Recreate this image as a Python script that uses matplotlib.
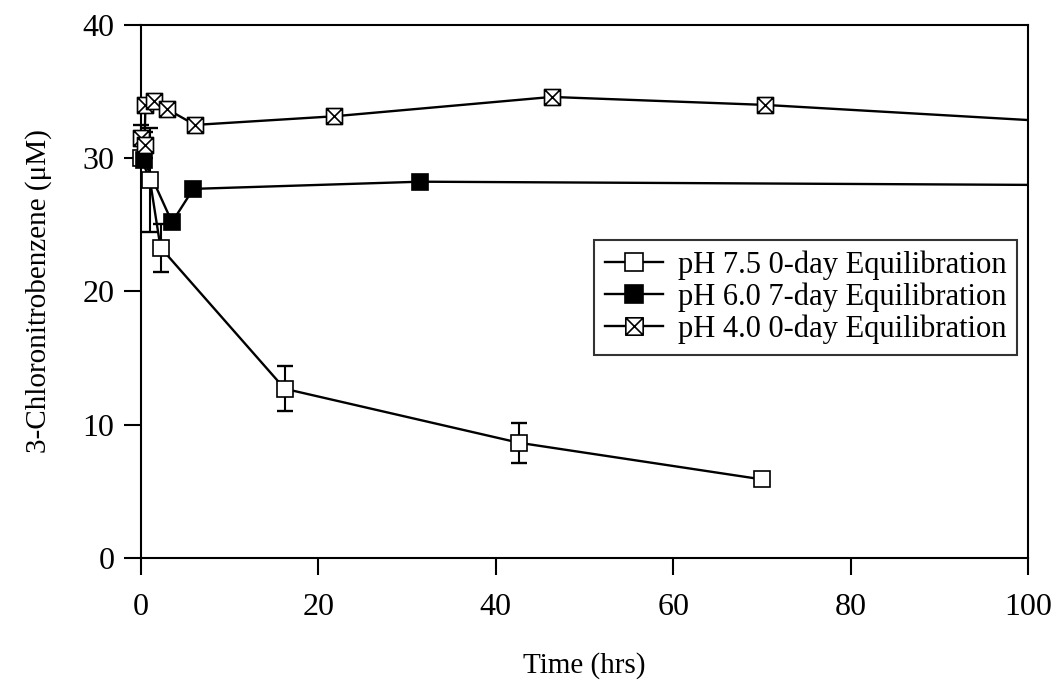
import matplotlib
matplotlib.use("Agg")
import matplotlib.pyplot as plt
from matplotlib.path import Path
from matplotlib.lines import Line2D
import numpy as np

plt.rcParams['font.family'] = ['Liberation Serif', 'DejaVu Serif']

# Data
t_75 = [0.0, 1.0, 2.2, 16.2, 42.6, 70.0]
y_75 = [30.0, 28.4, 23.3, 12.7, 8.65, 5.9]
e_75 = [0.0, 3.9, 1.8, 1.7, 1.5, 0.0]

t_60 = [0.3, 3.5, 5.9, 31.5, 120.0]
y_60 = [29.9, 25.2, 27.7, 28.24, 27.93]
e_60 = [0.3, 0.3, 0.3, 0.3, 0.3]

t_40 = [0.0, 0.4, 0.5, 1.45, 2.9, 6.1, 21.8, 46.3, 70.4, 120.0]
y_40 = [31.5, 31.0, 34.0, 34.3, 33.7, 32.5, 33.15, 34.6, 34.0, 32.1]
e_40 = [1.0, 1.0, 0.3, 0.3, 0.3, 0.3, 0.3, 0.3, 0.3, 0.3]

labels = ["pH 7.5 0-day Equilibration",
          "pH 6.0 7-day Equilibration",
          "pH 4.0 0-day Equilibration"]

xticks = [0, 20, 40, 60, 80, 100]
yticks = [0, 10, 20, 30, 40]

# box-with-X marker
verts = [(-1, -1), (1, -1), (1, 1), (-1, 1), (-1, -1),
         (-1, -1), (1, 1), (-1, 1), (1, -1)]
codes = [Path.MOVETO, Path.LINETO, Path.LINETO, Path.LINETO, Path.CLOSEPOLY,
         Path.MOVETO, Path.LINETO, Path.MOVETO, Path.LINETO]
boxx = Path(verts, codes)

fig = plt.figure(figsize=(10.53, 6.9), dpi=100)
ax = fig.add_axes([0.1339, 0.1913, 0.8424, 0.7725])

ms = 11.5
mew = 1.2
lw = 1.7

series = [
    (t_75, y_75, e_75, 's', 'white'),
    (t_60, y_60, e_60, 's', 'black'),
    (t_40, y_40, e_40, boxx, 'white'),
]

handles = []
for (t, y, e, m, fc), lab in zip(series, labels):
    t = np.asarray(t); y = np.asarray(y); e = np.asarray(e)
    ax.plot(t, y, '-', color='black', lw=lw, zorder=2)
    inr = t <= 100
    ax.errorbar(t[inr], y[inr], yerr=e[inr], fmt='none', ecolor='black',
                elinewidth=1.5, capsize=6, capthick=1.7, zorder=2, clip_on=False)
    ax.plot(t[inr], y[inr], linestyle='none', marker=m, ms=ms, mfc=fc,
            mec='black', mew=mew, zorder=3, clip_on=False)
    handles.append(Line2D([], [], color='black', lw=lw, marker=m, ms=12.5,
                          mfc=fc, mec='black', mew=mew, label=lab))

ax.set_xlim(0, 100)
ax.set_ylim(0, 40)
ax.set_xticks(xticks)
ax.set_yticks(yticks)
ax.tick_params(direction='out', length=12, width=1.5, labelsize=23,
               top=False, right=False)
ax.tick_params(axis='x', pad=13)
ax.tick_params(axis='y', pad=7)
for s in ax.spines.values():
    s.set_linewidth(1.5)

ax.set_xlabel("Time (hrs)", fontsize=21, labelpad=22)
ax.set_ylabel("3-Chloronitrobenzene (\u03bcM)", fontsize=21, labelpad=22)

leg = ax.legend(handles=handles, loc='upper right', bbox_to_anchor=(0.988, 0.597),
                borderaxespad=0, fontsize=22, handlelength=1.9, handletextpad=0.5,
                frameon=True, fancybox=False, edgecolor='black',
                labelspacing=0.08, borderpad=0.35)
leg.get_frame().set_linewidth(1.5)

fig.savefig("out.png", dpi=100)
